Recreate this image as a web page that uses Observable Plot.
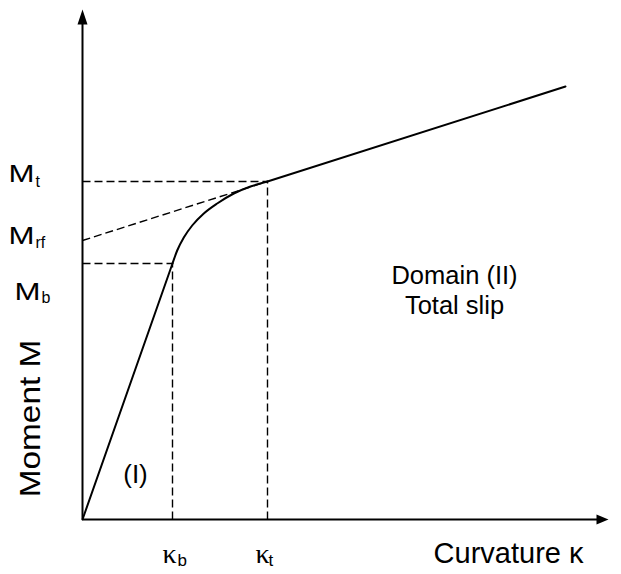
<!DOCTYPE html>
<html>
<head>
<meta charset="utf-8">
<script src="https://cdn.jsdelivr.net/npm/d3@7"></script>
<script src="https://cdn.jsdelivr.net/npm/@observablehq/plot@0.6"></script>
<style>
  body { margin: 0; background: white; }
</style>
</head>
<body>
<div id="chart"></div>
<script>
// ---- Data (arbitrary units) ----
const elasticKappa = [0, 0.90];
const elasticMoment = [0, 2.56];
const transitionKappa = [0.90, 0.947, 1.013, 1.097, 1.213, 1.347, 1.513, 1.68, 1.85];
const transitionMoment = [2.56, 2.69, 2.82, 2.94, 3.06, 3.16, 3.26, 3.33, 3.38];
const slipKappa = [1.85, 4.83];
const slipMoment = [3.38, 4.33];

const kappaB = 0.90, kappaT = 1.85;
const momentB = 2.56, momentRF = 2.79, momentT = 3.38;
const axisMaxKappa = 5.26, axisMaxMoment = 5.10;
const domainMaxKappa = 5.38;

const xLabel = "Curvature κ";
const yLabel = "Moment M";
const domainLabels = ["Domain (II)", "Total slip"];
const domainOneLabel = "(I)";

// ---- Tables built from the arrays ----
const toPoints = (xs, ys) => xs.map((x, i) => ({x, y: ys[i]}));
const elastic = toPoints(elasticKappa, elasticMoment);
const transition = toPoints(transitionKappa, transitionMoment);
const slip = toPoints(slipKappa, slipMoment);

const guides = [
  {x1: 0, y1: momentT, x2: kappaT, y2: momentT},
  {x1: 0, y1: momentB, x2: kappaB, y2: momentB},
  {x1: kappaB, y1: 0, x2: kappaB, y2: momentB},
  {x1: kappaT, y1: 0, x2: kappaT, y2: momentT},
  {x1: 0, y1: momentRF, x2: kappaT, y2: momentT}
];

const arrowUp = {draw(ctx) { ctx.moveTo(0, 0); ctx.lineTo(5, 15); ctx.lineTo(-5, 15); ctx.closePath(); }};
const arrowRight = {draw(ctx) { ctx.moveTo(0, 0); ctx.lineTo(-12, -5); ctx.lineTo(-12, 5); ctx.closePath(); }};

const font = "Liberation Sans, Arial, Helvetica, sans-serif";
const serif = "Liberation Serif, Times New Roman, serif";

function subLabel(x, y, main, sub, o) {
  return [
    Plot.text([main], {x: () => x, y: () => y, text: d => d, textAnchor: "start", lineAnchor: "bottom",
      dx: o.dx, dy: o.dy, fontSize: o.size, fontFamily: o.family || font, fill: "black"}),
    Plot.text([sub], {x: () => x, y: () => y, text: d => d, textAnchor: "start", lineAnchor: "bottom",
      dx: o.sdx, dy: o.sdy, fontSize: o.subSize, fill: "black"})
  ];
}

const chart = Plot.plot({
  width: 621,
  height: 574,
  marginLeft: 82,
  marginRight: 1,
  marginTop: 9,
  marginBottom: 55,
  x: {domain: [0, domainMaxKappa], axis: null},
  y: {domain: [0, axisMaxMoment], axis: null},
  style: {fontFamily: font, background: "white", color: "black", overflow: "visible"},
  marks: [
    // dashed guides
    Plot.link(guides, {x1: "x1", y1: "y1", x2: "x2", y2: "y2", stroke: "black", strokeWidth: 1.4, strokeDasharray: "8,4"}),
    // axes
    Plot.link([{x1: 0, y1: 0, x2: axisMaxKappa - 0.1, y2: 0}], {x1: "x1", y1: "y1", x2: "x2", y2: "y2", stroke: "black", strokeWidth: 2}),
    Plot.link([{x1: 0, y1: 0, x2: 0, y2: axisMaxMoment - 0.13}], {x1: "x1", y1: "y1", x2: "x2", y2: "y2", stroke: "black", strokeWidth: 2}),
    Plot.dot([{x: 0, y: axisMaxMoment}], {x: "x", y: "y", symbol: arrowUp, fill: "black", stroke: "none"}),
    Plot.dot([{x: axisMaxKappa, y: 0}], {x: "x", y: "y", symbol: arrowRight, fill: "black", stroke: "none"}),
    // moment-curvature curve
    Plot.line(elastic, {x: "x", y: "y", stroke: "black", strokeWidth: 2}),
    Plot.line(transition, {x: "x", y: "y", stroke: "black", strokeWidth: 2, curve: "monotone-x"}),
    Plot.line(slip, {x: "x", y: "y", stroke: "black", strokeWidth: 2}),
    // moment labels
    ...subLabel(0, momentT, "M", "t", {dx: -74, dy: 0, sdx: -47, sdy: 5, size: 24, subSize: 16}),
    ...subLabel(0, momentRF, "M", "rf", {dx: -74, dy: 3, sdx: -47, sdy: 7, size: 24, subSize: 16}),
    ...subLabel(0, momentB, "M", "b", {dx: -68, dy: 36, sdx: -41, sdy: 39, size: 24, subSize: 16}),
    // curvature labels
    ...subLabel(kappaB, 0, "κ", "b", {dx: -10, dy: 43, sdx: 5, sdy: 46, size: 28, subSize: 17, family: serif}),
    ...subLabel(kappaT, 0, "κ", "t", {dx: -12, dy: 43, sdx: 1, sdy: 46, size: 28, subSize: 17, family: serif}),
    // axis titles
    Plot.text([xLabel], {frameAnchor: "bottom-right", text: d => d, textAnchor: "end", lineAnchor: "bottom",
      dx: -37, dy: 43, fontSize: 29, fill: "black"}),
    Plot.text([yLabel], {frameAnchor: "left", text: d => d, textAnchor: "middle", lineAnchor: "middle",
      rotate: -90, dx: -52, dy: 154, fontSize: 29, fill: "black"}),
    // domain labels
    Plot.text([domainLabels[0]], {frameAnchor: "top-left", text: d => d, textAnchor: "middle", lineAnchor: "bottom",
      dx: 372, dy: 274, fontSize: 25.5, fill: "black"}),
    Plot.text([domainLabels[1]], {frameAnchor: "top-left", text: d => d, textAnchor: "middle", lineAnchor: "bottom",
      dx: 372, dy: 304, fontSize: 25.5, fill: "black"}),
    Plot.text([domainOneLabel], {frameAnchor: "bottom-left", text: d => d, textAnchor: "middle", lineAnchor: "bottom",
      dx: 53, dy: -37, fontSize: 26, fill: "black"})
  ]
});

// glyph stretching seen in the reference: wide "M" labels, long "Moment M" title
d3.select(chart).selectAll("text")
  .filter(function () { return this.textContent === "M"; })
  .attr("transform", function () { return (this.getAttribute("transform") || "") + " scale(1.3,1)"; });
d3.select(chart).selectAll("text")
  .filter(function () { return this.textContent === yLabel; })
  .attr("transform", function () { return (this.getAttribute("transform") || "") + " scale(1.15,1)"; });

document.getElementById("chart").appendChild(chart);
</script>
</body>
</html>
